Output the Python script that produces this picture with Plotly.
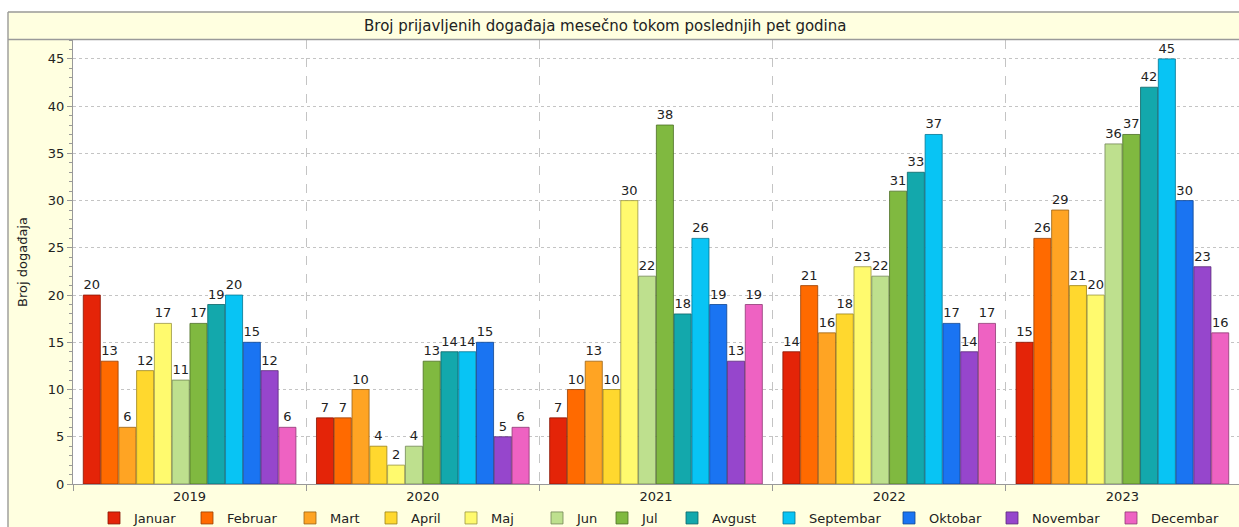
import plotly.graph_objects as go

years = ["2019", "2020", "2021", "2022", "2023"]
months = ["Januar", "Februar", "Mart", "April", "Maj", "Jun", "Jul",
          "Avgust", "Septembar", "Oktobar", "Novembar", "Decembar"]

januar = [20, 7, 7, 14, 15]
februar = [13, 7, 10, 21, 26]
mart = [6, 10, 13, 16, 29]
april = [12, 4, 10, 18, 21]
maj = [17, 2, 30, 23, 20]
jun = [11, 4, 22, 22, 36]
jul = [17, 13, 38, 31, 37]
avgust = [19, 14, 18, 33, 42]
septembar = [20, 14, 26, 37, 45]
oktobar = [15, 15, 19, 17, 30]
novembar = [12, 5, 13, 14, 23]
decembar = [6, 6, 19, 17, 16]

series = [januar, februar, mart, april, maj, jun, jul,
          avgust, septembar, oktobar, novembar, decembar]

colors = ["#E42408", "#FF6A00", "#FFA423", "#FFD82E", "#FFFA6E", "#BEE08E",
          "#80B940", "#13A8AC", "#08C4F4", "#1A74F2", "#9646CC", "#EE62C2"]
legend_widths = [48, 58, 36, 35, 41, 20, 25, 52, 75, 58, 74, 70]

FONT = "DejaVu Sans"


def darker(hexcol, f=0.6):
    h = hexcol.lstrip("#")
    r, g, b = (int(h[i:i + 2], 16) for i in (0, 2, 4))
    return "rgb(%d,%d,%d)" % (r * f, g * f, b * f)


fig = go.Figure()
for name, vals, col, lw in zip(months, series, colors, legend_widths):
    fig.add_trace(go.Bar(
        x=years, y=vals, name=name,
        marker=dict(color=col, line=dict(color=darker(col), width=0.8)),
        text=vals, textposition="outside", constraintext="none",
        textfont=dict(family=FONT, size=13, color="#222"),
        cliponaxis=False, legendwidth=lw,
    ))

# page coordinates (body margin removed in the page)
W, H = 1239, 527
L, R, T, B = 73, 0, 40, 43
pw, ph = W - L - R, H - T - B


def px(X):
    return (X - L) / pw


def py(Y):
    return (H - B - Y) / ph


shapes = [
    dict(type="rect", xref="paper", yref="paper", x0=px(-5), x1=px(W + 5),
         y0=py(11.5), y1=py(-5), fillcolor="white", line_width=0, layer="above"),
    dict(type="rect", xref="paper", yref="paper", x0=px(-5), x1=px(7.5),
         y0=py(H + 5), y1=py(-5), fillcolor="white", line_width=0, layer="above"),
    dict(type="line", xref="paper", yref="paper", x0=px(8), x1=px(W + 5),
         y0=py(12), y1=py(12), line=dict(color="#9a9a9a", width=1.4), layer="above"),
    dict(type="line", xref="paper", yref="paper", x0=px(8), x1=px(8),
         y0=py(12), y1=py(H + 5), line=dict(color="#9a9a9a", width=1.4), layer="above"),
    dict(type="line", xref="paper", yref="paper", x0=px(8), x1=px(W + 5),
         y0=py(39.5), y1=py(39.5), line=dict(color="#9a9a9a", width=1.4), layer="above"),
]

fig.update_layout(
    width=W, height=H,
    margin=dict(l=L, r=R, t=T, b=B),
    paper_bgcolor="#FFFFE0",
    plot_bgcolor="white",
    font=dict(family=FONT, size=13, color="#222"),
    barmode="group", bargap=0.085, bargroupgap=0.04,
    shapes=shapes,
    annotations=[dict(text="Broj prijavljenih događaja mesečno tokom poslednjih pet godina",
                      xref="paper", yref="paper", x=px(605), y=py(26),
                      xanchor="center", yanchor="middle", showarrow=False,
                      font=dict(family=FONT, size=15, color="#222"))],
    showlegend=True,
    legend=dict(orientation="h", xref="container", yref="container",
                x=94 / W, xanchor="left", y=1 - 518 / H, yanchor="middle",
                font=dict(family=FONT, size=13, color="#222"),
                bgcolor="rgba(0,0,0,0)", traceorder="normal", itemclick=False),
    xaxis=dict(type="category", tickson="boundaries", ticks="outside", ticklen=6,
               tickcolor="#999", showline=True, linecolor="#999", linewidth=1,
               showgrid=True, gridcolor="#c4c4c4", griddash="dash", gridwidth=1,
               tickfont=dict(family=FONT, size=13, color="#222")),
    yaxis=dict(range=[0, 47], dtick=5, tick0=0, ticks="outside", ticklen=5,
               tickcolor="#999", showline=True, linecolor="#999", linewidth=1,
               showgrid=True, gridcolor="#c4c4c4", griddash="dot", zeroline=False,
               minor=dict(dtick=1, ticks="outside", ticklen=3, tickcolor="#999", showgrid=False),
               tickfont=dict(family=FONT, size=13, color="#222"),
               title=dict(text="Broj događaja", font=dict(family=FONT, size=13, color="#222"),
                          standoff=17)),
)

fig.write_html("out.html", config={"displayModeBar": False},
               post_script="document.body.style.margin='0';document.body.style.overflow='hidden';")
